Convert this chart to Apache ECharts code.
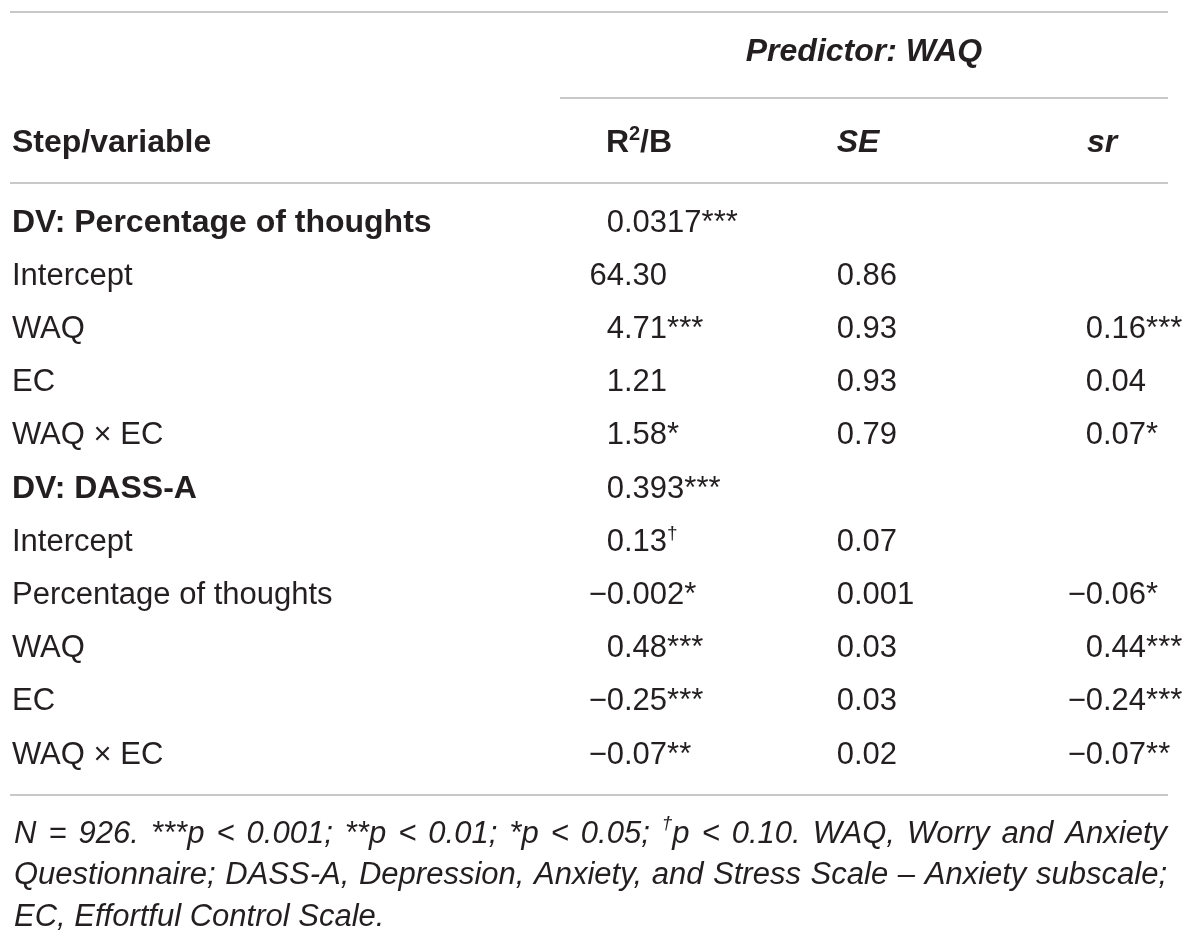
<!DOCTYPE html>
<html>
<head>
<meta charset="utf-8">
<title>Predictor: WAQ</title>
<script src="https://cdn.jsdelivr.net/npm/echarts@6/dist/echarts.min.js"></script>
<style>
    html, body { margin: 0; background: #fff; }
    #main { width: 1200px; height: 945px; }
</style>
</head>
<body>
<div id="main"></div>
<script type="text/javascript">
    // 表格数据
    var rowNames = ['DV: Percentage of thoughts', 'Intercept', 'WAQ', 'EC', 'WAQ × EC',
        'DV: DASS-A', 'Intercept', 'Percentage of thoughts', 'WAQ', 'EC', 'WAQ × EC'];
    var r2bValues = ['0.0317***', '64.30', '4.71***', '1.21', '1.58*',
        '0.393***', '0.13†', '−0.002*', '0.48***', '−0.25***', '−0.07**'];
    var seValues = ['', '0.86', '0.93', '0.93', '0.79',
        '', '0.07', '0.001', '0.03', '0.03', '0.02'];
    var srValues = ['', '', '0.16***', '0.04', '0.07*',
        '', '', '−0.06*', '0.44***', '−0.24***', '−0.07**'];
    var columnNames = ['Step/variable', 'R2/B', 'SE', 'sr'];
    var groupTitle = 'Predictor: WAQ';
    var noteLines = [
        'N = 926. ***p < 0.001; **p < 0.01; *p < 0.05; {sup|†}p < 0.10. WAQ, Worry and Anxiety',
        'Questionnaire; DASS-A, Depression, Anxiety, and Stress Scale – Anxiety subscale;',
        'EC, Effortful Control Scale.'
    ];

    // 版式
    var FONT = '"Liberation Sans", Arial, sans-serif';
    var INK = '#231f20';
    var RULE = '#c8c8c8';
    var SIZE = 31, BOLD_SIZE = 32, SUP_SIZE = 19;
    var decimalX = [624, 854, 1103];          // 小数点对齐位置
    var headX = [12, 639, 858, 1102];
    var noteWidth = 1153;

    var supStyle = { fontSize: SUP_SIZE, fontFamily: FONT, color: INK, verticalAlign: 'top' };

    function splitDecimal(s) {
        var k = s.indexOf('.');
        return [s.slice(0, k), s.slice(k).replace('†', '{sup|†}')];
    }

    function cellSeries(values, x, part) {
        var data = [];
        values.forEach(function (v, i) {
            if (v) data.push({ value: [x, i], txt: splitDecimal(v)[part] });
        });
        return {
            type: 'scatter',
            xAxisIndex: 0,
            yAxisIndex: 0,
            symbolSize: 0,
            silent: true,
            itemStyle: { opacity: 1 },
            data: data,
            label: {
                show: true,
                position: part === 0 ? 'left' : 'right',
                distance: 0,
                formatter: function (p) { return p.data.txt; },
                fontSize: SIZE,
                fontFamily: FONT,
                color: INK,
                opacity: 1,
                lineHeight: 36,
                rich: { sup: supStyle }
            }
        };
    }

    // 脚注两端对齐
    var measureCtx = document.createElement('canvas').getContext('2d');
    function markupWidth(markup) {
        var w = 0;
        markup.replace(/\{sup\|([^}]*)\}|([^{]+)/g, function (m, sup, plain) {
            measureCtx.font = 'italic ' + (sup ? SUP_SIZE : SIZE) + 'px ' + FONT;
            w += measureCtx.measureText(sup || plain).width;
            return m;
        });
        return w;
    }
    function justify(markup, width) {
        var words = markup.split(' ');
        var used = 0;
        words.forEach(function (w) { used += markupWidth(w); });
        return { text: words.join('{gap| }'), gap: (width - used) / (words.length - 1) };
    }

    var series = [];
    [r2bValues, seValues, srValues].forEach(function (vals, c) {
        series.push(cellSeries(vals, decimalX[c], 0));
        series.push(cellSeries(vals, decimalX[c], 1));
    });

    // 表头
    series.push({
        type: 'scatter',
        xAxisIndex: 1,
        yAxisIndex: 1,
        symbolSize: 0,
        silent: true,
        itemStyle: { opacity: 1 },
        data: columnNames.map(function (name, c) {
            return {
                value: [headX[c], 0],
                txt: name.replace('R2', 'R{hsup|2}'),
                label: {
                    position: c === 0 ? 'right' : 'inside',
                    fontStyle: c >= 2 ? 'italic' : 'normal'
                }
            };
        }),
        label: {
            show: true,
            distance: 0,
            formatter: function (p) { return p.data.txt; },
            fontSize: BOLD_SIZE,
            fontWeight: 'bold',
            fontFamily: FONT,
            color: INK,
            opacity: 1,
            lineHeight: 38,
            rich: {
                hsup: { fontSize: 20, fontWeight: 'bold', fontFamily: FONT, color: INK, verticalAlign: 'top' }
            }
        }
    });

    var graphics = [
        { type: 'line', shape: { x1: 10, y1: 12, x2: 1168, y2: 12 }, style: { stroke: RULE, lineWidth: 2 } },
        { type: 'line', shape: { x1: 560, y1: 98, x2: 1168, y2: 98 }, style: { stroke: RULE, lineWidth: 2 } },
        { type: 'line', shape: { x1: 10, y1: 183, x2: 1168, y2: 183 }, style: { stroke: RULE, lineWidth: 2 } },
        { type: 'line', shape: { x1: 10, y1: 795, x2: 1168, y2: 795 }, style: { stroke: RULE, lineWidth: 2 } },
        {
            type: 'text', x: 864, y: 52,
            style: {
                text: groupTitle, fontSize: BOLD_SIZE, fontWeight: 'bold', fontStyle: 'italic',
                fontFamily: FONT, fill: INK, align: 'center', verticalAlign: 'middle'
            }
        }
    ];
    noteLines.forEach(function (line, i) {
        var j = i < noteLines.length - 1 ? justify(line, noteWidth) : { text: line, gap: 8 };
        graphics.push({
            type: 'text', x: 14, y: 834 + i * 41.5,
            style: {
                text: j.text, fontSize: SIZE, fontStyle: 'italic', fontFamily: FONT, fill: INK,
                verticalAlign: 'middle', lineHeight: 40,
                rich: {
                    sup: { fontSize: SUP_SIZE, fontStyle: 'italic', fontFamily: FONT, fill: INK, verticalAlign: 'top' },
                    gap: { width: j.gap, fontSize: SIZE, fontStyle: 'italic', fontFamily: FONT, fill: INK }
                }
            }
        });
    });

    var myChart = echarts.init(document.getElementById('main'));
    var option = {
        backgroundColor: '#fff',
        animation: false,
        grid: [
            { left: 0, right: 0, top: 196.4, height: 585.2 },
            { left: 0, right: 0, top: 116, height: 54 }
        ],
        xAxis: [
            { type: 'value', gridIndex: 0, min: 0, max: 1200, show: false },
            { type: 'value', gridIndex: 1, min: 0, max: 1200, show: false }
        ],
        yAxis: [
            {
                type: 'category', gridIndex: 0, data: rowNames, inverse: true,
                axisLine: { show: false }, axisTick: { show: false }, splitLine: { show: false },
                axisLabel: {
                    inside: true, margin: 12, interval: 0,
                    fontSize: SIZE, fontFamily: FONT, color: INK,
                    formatter: function (v) { return v.indexOf('DV:') === 0 ? '{b|' + v + '}' : v; },
                    rich: { b: { fontSize: BOLD_SIZE, fontWeight: 'bold', fontFamily: FONT, color: INK } }
                }
            },
            { type: 'category', gridIndex: 1, data: ['head'], show: false }
        ],
        graphic: graphics,
        series: series
    };
    myChart.setOption(option);
</script>
</body>
</html>
